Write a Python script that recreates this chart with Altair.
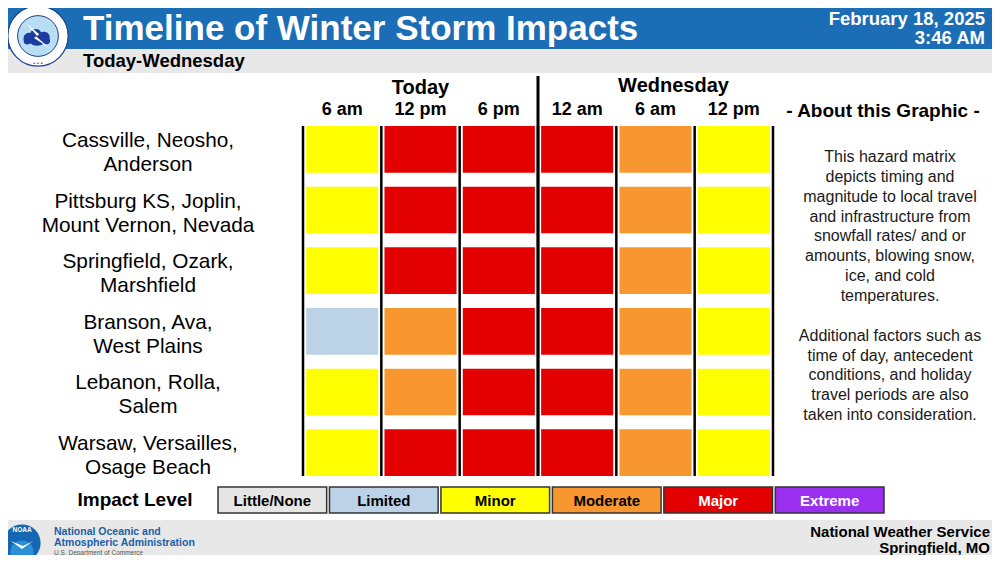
import math
import altair as alt
import pandas as pd

FONT = "Liberation Sans"

# ---------------- data ----------------
locations = [
    "Cassville, Neosho,\nAnderson",
    "Pittsburg KS, Joplin,\nMount Vernon, Nevada",
    "Springfield, Ozark,\nMarshfield",
    "Branson, Ava,\nWest Plains",
    "Lebanon, Rolla,\nSalem",
    "Warsaw, Versailles,\nOsage Beach",
]
time_keys = ["Today 6 am", "Today 12 pm", "Today 6 pm",
             "Wednesday 12 am", "Wednesday 6 am", "Wednesday 12 pm"]
time_labels = ["6 am", "12 pm", "6 pm", "12 am", "6 am", "12 pm"]

levels = ["Little/None", "Limited", "Minor", "Moderate", "Major", "Extreme"]
level_colors = ["#e6e6e6", "#bcd3e7", "#ffff00", "#f89630", "#e20000", "#9b2ff0"]

row_cassville = ["Minor", "Major", "Major", "Major", "Moderate", "Minor"]
row_pittsburg = ["Minor", "Major", "Major", "Major", "Moderate", "Minor"]
row_springfield = ["Minor", "Major", "Major", "Major", "Moderate", "Minor"]
row_branson = ["Limited", "Moderate", "Major", "Major", "Moderate", "Minor"]
row_lebanon = ["Minor", "Moderate", "Major", "Major", "Moderate", "Minor"]
row_warsaw = ["Minor", "Major", "Major", "Major", "Moderate", "Minor"]
matrix_rows = [row_cassville, row_pittsburg, row_springfield,
               row_branson, row_lebanon, row_warsaw]

about_par1 = [
    "This hazard matrix", "depicts timing and", "magnitude to local travel",
    "and infrastructure from", "snowfall rates/ and or", "amounts, blowing snow,",
    "ice, and cold", "temperatures.",
]
about_par2 = [
    "Additional factors such as", "time of day, antecedent",
    "conditions, and holiday", "travel periods are also",
    "taken into consideration.",
]

cells_df = pd.DataFrame(
    [{"loc": loc, "time": t, "level": lv}
     for loc, row in zip(locations, matrix_rows)
     for t, lv in zip(time_keys, row)]
)
times_df = pd.DataFrame({"time": time_keys, "label": time_labels})
locs_df = pd.DataFrame({"loc": locations})
levels_df = pd.DataFrame({"level": levels})
one = pd.DataFrame({"a": [0]})

# ---------------- layout ----------------
W, H = 470, 350
PAD = {"left": 295, "top": 118, "right": 219, "bottom": 79}
X0, X1 = -PAD["left"], W + PAD["right"]
Y1 = H + PAD["bottom"]
PI = 0.08
STEP = W / len(time_keys)
HALF_GAP = PI * STEP / 2
LINE_H = 19.86

xscale = alt.Scale(type="band", domain=time_keys, paddingInner=PI, paddingOuter=PI / 2)
yscale = alt.Scale(type="band", domain=locations, paddingInner=0.23, paddingOuter=0)
color_scale = alt.Scale(domain=levels, range=level_colors)


def deco_rect(x, x2, y, y2, color):
    return alt.Chart(one).mark_rect(color=color).encode(
        x=alt.value(x), x2=alt.value(x2), y=alt.value(y), y2=alt.value(y2))


def deco_text(text, x, y, size, color="black", bold=True, align="left"):
    return alt.Chart(one).mark_text(
        font=FONT, fontSize=size, fontWeight="bold" if bold else "normal",
        color=color, align=align, baseline="middle",
    ).encode(x=alt.value(x), y=alt.value(y), text=alt.value(text))


def para(lines, x, y):
    return alt.Chart(one).mark_text(
        font=FONT, fontSize=16, lineHeight=LINE_H, lineBreak="\n",
        align="center", baseline="middle", color="#1a1a1a",
    ).encode(x=alt.value(x), y=alt.value(y), text=alt.value("\n".join(lines)))


def circle(x, y, r, fill, stroke=None, sw=0):
    kw = dict(shape="circle", filled=True, fill=fill, opacity=1, size=math.pi * r * r)
    if stroke:
        kw.update(stroke=stroke, strokeWidth=sw)
    return alt.Chart(one).mark_point(**kw).encode(x=alt.value(x), y=alt.value(y))


def shape(path, x, y, size, fill):
    return alt.Chart(one).mark_point(
        shape=path, filled=True, fill=fill, opacity=1, size=size, strokeWidth=0,
    ).encode(x=alt.value(x), y=alt.value(y))


# ---------------- matrix ----------------
cells = alt.Chart(cells_df).mark_rect().encode(
    x=alt.X("time:N", scale=xscale, axis=None),
    y=alt.Y("loc:N", scale=yscale, axis=None),
    color=alt.Color("level:N", scale=color_scale, legend=None),
)
separators = alt.Chart(times_df).mark_rule(
    color="black", strokeWidth=2.5, xOffset=-HALF_GAP
).encode(
    x=alt.X("time:N", scale=xscale, axis=None, bandPosition=0),
    y=alt.value(0), y2=alt.value(H),
)
right_edge = alt.Chart(times_df.tail(1)).mark_rule(
    color="black", strokeWidth=2.5, xOffset=HALF_GAP
).encode(
    x=alt.X("time:N", scale=xscale, axis=None, bandPosition=1),
    y=alt.value(0), y2=alt.value(H),
)
day_split = alt.Chart(times_df.iloc[[3]]).mark_rule(
    color="black", strokeWidth=3, xOffset=-HALF_GAP
).encode(
    x=alt.X("time:N", scale=xscale, axis=None, bandPosition=0),
    y=alt.value(-50), y2=alt.value(H),
)
row_labels = alt.Chart(locs_df).mark_text(
    font=FONT, fontSize=20.8, lineHeight=24, lineBreak="\n",
    align="center", baseline="middle", dy=-8.5, color="black",
).encode(
    y=alt.Y("loc:N", scale=yscale, axis=None, bandPosition=0.5),
    x=alt.value(-155), text="loc:N",
)
time_text = alt.Chart(times_df).mark_text(
    font=FONT, fontSize=18, fontWeight="bold", align="center", baseline="middle",
    color="black",
).encode(
    x=alt.X("time:N", scale=xscale, axis=None, bandPosition=0.5),
    y=alt.value(-16), text="label:N",
)
day_today = alt.Chart(pd.DataFrame({"time": ["Today 12 pm"], "day": ["Today"]})).mark_text(
    font=FONT, fontSize=20, fontWeight="bold", align="center", baseline="middle",
    color="black",
).encode(
    x=alt.X("time:N", scale=xscale, axis=None, bandPosition=0.5),
    y=alt.value(-38), text="day:N",
)
day_wed = alt.Chart(pd.DataFrame({"time": ["Wednesday 6 am"], "day": ["Wednesday"]})).mark_text(
    font=FONT, fontSize=20, fontWeight="bold", align="center", baseline="middle",
    color="black", dx=18,
).encode(
    x=alt.X("time:N", scale=xscale, axis=None, bandPosition=0.5),
    y=alt.value(-40), text="day:N",
)
matrix = alt.layer(cells, separators, right_edge, day_split, row_labels,
                   time_text, day_today, day_wed)

# ---------------- legend ----------------
leg_x = alt.Scale(type="band", domain=levels, range=[-85, 581],
                  paddingInner=0.025, paddingOuter=0)
leg_rect = alt.Chart(levels_df).mark_rect(stroke="#333333", strokeWidth=1.5).encode(
    x=alt.X("level:N", scale=leg_x, axis=None),
    y=alt.value(361), y2=alt.value(387),
    color=alt.Color("level:N", scale=color_scale, legend=None),
)
leg_text = alt.Chart(levels_df).mark_text(
    font=FONT, fontSize=15, fontWeight="bold", align="center", baseline="middle",
).encode(
    x=alt.X("level:N", scale=leg_x, axis=None, bandPosition=0.5),
    y=alt.value(374.5), text="level:N",
    color=alt.condition(
        alt.FieldOneOfPredicate(field="level", oneOf=["Major", "Extreme"]),
        alt.value("white"), alt.value("black")),
)
legend = alt.layer(leg_rect, leg_text)

# ---------------- decorations ----------------
BOLT = "M-0.75,-0.8 L0.15,-0.05 L-0.05,0.1 L0.8,0.85 L-0.2,0.2 L0.0,0.05 Z"
CLOUD = ("M-1,0.3 C-1.1,-0.1 -0.8,-0.4 -0.5,-0.3 C-0.4,-0.7 0.2,-0.7 0.3,-0.35 "
         "C0.7,-0.5 1.05,-0.2 0.95,0.15 C1.1,0.45 0.8,0.65 0.5,0.5 "
         "C0.2,0.75 -0.3,0.7 -0.45,0.5 C-0.8,0.65 -1.05,0.5 -1,0.3 Z")

header = [
    deco_rect(X0, X1, -118, -77, "#1b6db5"),
    deco_rect(X0, X1, -77, -53, "#e8e8e8"),
    deco_text("Timeline of Winter Storm Impacts", -220, -97.5, 35, "white"),
    deco_text("February 18, 2025", 682, -107.5, 18.5, "white", align="right"),
    deco_text("3:46 AM", 682, -88, 18.5, "white", align="right"),
    deco_text("Today-Wednesday", -220, -65, 18.5),
    # NWS logo (approximate)
    circle(-265, -90, 34, "white", "#1f3f8f", 1.2),
    circle(-265, -90, 23, "#b9def3", "#1f3f8f", 1),
    shape(CLOUD, -266, -89, 700, "#1d3c9e"),
    shape(BOLT, -266, -91, 900, "white"),
    deco_text("• • •", -265, -63, 6, "#c0272d", align="center"),
]
footer = [
    deco_rect(X0, X1, 394, Y1, "#e8e8e8"),
    circle(-281, 417, 21, "#1566b3"),
    circle(-281, 426, 13, "#2b8fd8"),
    shape("M-1,-0.35 L0,0.35 L1,-0.35 L0.1,0.1 Z", -281, 419, 500, "white"),
    deco_text("NOAA", -281, 404, 6.5, "white", align="center"),
    deco_text("National Oceanic and", -249, 406, 10.5, "#1c5fa8"),
    deco_text("Atmospheric Administration", -249, 417, 10.5, "#1c5fa8"),
    deco_text("U.S. Department of Commerce", -249, 427, 6.5, "#555555", bold=False),
    deco_text("National Weather Service", 687, 406, 15, align="right"),
    deco_text("Springfield, MO", 687, 422, 15, align="right"),
]
side = [
    deco_text("- About this Graphic -", 580, -15, 19, align="center"),
    para(about_par1, 587, 31),
    para(about_par2, 587, 31 + (len(about_par1) + 1) * LINE_H),
    deco_text("Impact Level", -168, 374, 19, align="center"),
]

chart = alt.layer(
    *header, matrix, legend, *side, *footer
).resolve_scale(x="independent").properties(
    width=W, height=H, padding=PAD,
    autosize=alt.AutoSizeParams(type="none"),
).configure_view(strokeWidth=0)

chart.save("out.html", embed_options={"renderer": "svg", "actions": False})
